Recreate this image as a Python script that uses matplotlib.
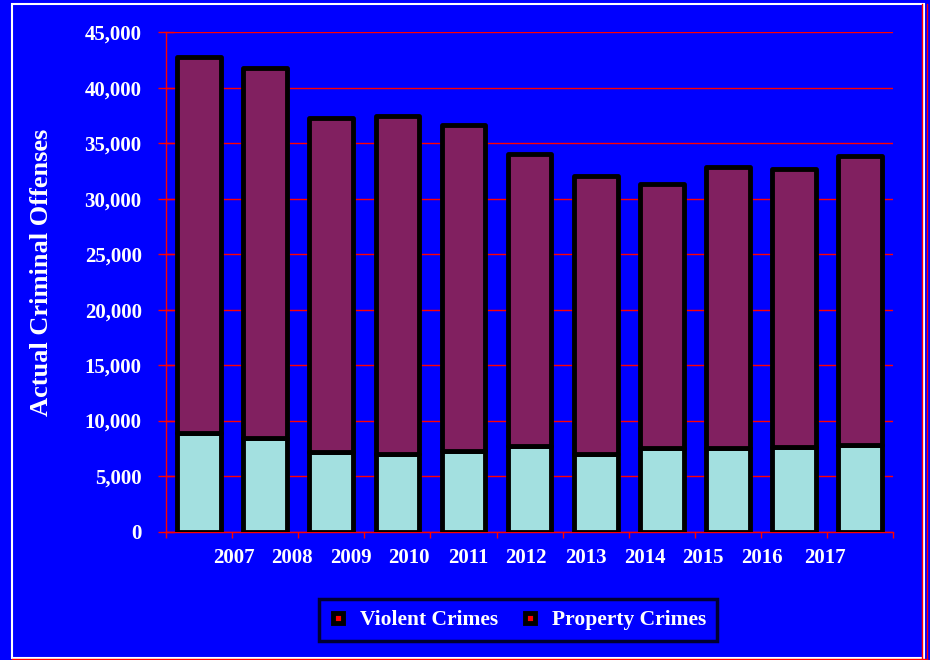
import numpy as np
import matplotlib.pyplot as plt
from matplotlib.lines import Line2D
from matplotlib.patches import Rectangle
from matplotlib.ticker import FuncFormatter

# data
years = ["2007", "2008", "2009", "2010", "2011", "2012",
         "2013", "2014", "2015", "2016", "2017"]
violent = [8900, 8430, 7170, 6990, 7260, 7750, 7030, 7530, 7570, 7620, 7840]
total = [42740, 41790, 37290, 37470, 36610, 34040, 32010, 31330, 32870, 32690, 33860]
property_crimes = [t - v for t, v in zip(total, violent)]

# year labels sit off the bar centres in the original rendering (layout only)
year_label_x = [0.52, 1.41, 2.30, 3.18, 4.07, 4.95, 5.85, 6.74, 7.62, 8.51, 9.47]

blue = "#0000FF"
purple = "#812060"
cyan = "#A3E0E0"
red = "#FF0000"
font = ["Liberation Serif", "DejaVu Serif"]

plt.rcParams["font.family"] = font
plt.rcParams["font.weight"] = "bold"

fig = plt.figure(figsize=(9.3, 6.6), dpi=100, facecolor=blue)
ax = fig.add_axes([166 / 930, 1 - 531.5 / 660, 727.3 / 930, 499.2 / 660])
ax.set_facecolor(blue)

x = np.arange(len(years))
ax.bar(x, violent, width=0.66, color=cyan, edgecolor="black", linewidth=3.5,
       joinstyle="round", zorder=3)
ax.bar(x, property_crimes, bottom=violent, width=0.66, color=purple,
       edgecolor="black", linewidth=3.5, joinstyle="round", zorder=3)

ax.set_xlim(-0.5, len(years) - 0.5)
ax.set_ylim(0, 45000)

# y axis
ax.set_yticks(np.arange(0, 45001, 5000))
ax.yaxis.set_major_formatter(FuncFormatter(lambda v, p: f"{int(v):,}"))
ax.tick_params(axis="y", direction="inout", length=11, width=1, color=red,
               labelcolor="white", labelsize=15, pad=12)
ax.yaxis.grid(True, color=red, linewidth=1, zorder=0)
ax.set_axisbelow(True)

# x axis: boundary ticks, labels on minor ticks
ax.set_xticks(np.arange(-0.5, len(years), 1))
ax.set_xticklabels([])
ax.tick_params(axis="x", which="major", direction="out", length=4, width=1, color=red)
ax.set_xticks(year_label_x, minor=True)
ax.set_xticklabels(years, minor=True)
ax.tick_params(axis="x", which="minor", length=0, labelcolor="white",
               labelsize=15, pad=12)

for side in ["top", "right"]:
    ax.spines[side].set_visible(False)
for side in ["left", "bottom"]:
    ax.spines[side].set_color(red)
    ax.spines[side].set_linewidth(1)

ax.set_ylabel("Actual Criminal Offenses", color="white", fontsize=19, fontweight="bold")
ax.yaxis.set_label_coords(-0.156, 0.52)

# legend
handles = [Line2D([], [], linestyle="none", marker="s", markersize=7,
                  markerfacecolor=red, markeredgecolor="black", markeredgewidth=3.5)
           for _ in range(2)]
leg = fig.legend(handles, ["Violent Crimes", "Property Crimes"], ncol=2,
                 loc="center", bbox_to_anchor=(518 / 930, 1 - 620 / 660),
                 frameon=True, fancybox=False, facecolor=blue, edgecolor="black",
                 fontsize=15.5, handlelength=0.8, handletextpad=0.6,
                 columnspacing=1.1, borderpad=0.5)
leg.get_frame().set_linewidth(2.5)
for t in leg.get_texts():
    t.set_color("white")
    t.set_fontweight("bold")

# outer frame
fig.add_artist(Rectangle((12 / 930, 2 / 660), 912 / 930, 654 / 660,
                         transform=fig.transFigure, fill=False,
                         edgecolor="white", linewidth=1.5))
fig.add_artist(Line2D([921.5 / 930, 921.5 / 930], [0, 656 / 660],
                      transform=fig.transFigure, color=red, linewidth=1))
fig.add_artist(Line2D([926.5 / 930, 926.5 / 930], [0, 656 / 660],
                      transform=fig.transFigure, color=red, linewidth=1))
fig.add_artist(Line2D([12 / 930, 927 / 930], [1.5 / 660, 1.5 / 660],
                      transform=fig.transFigure, color=red, linewidth=1))

fig.savefig("out.png", dpi=100, facecolor=blue)
